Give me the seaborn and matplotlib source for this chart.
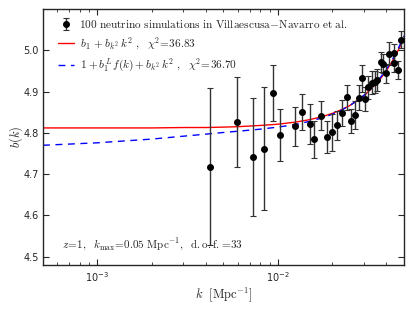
import numpy as np
import pandas as pd
import matplotlib
matplotlib.use("Agg")
import matplotlib.pyplot as plt
import seaborn as sns

# ---- data ----
k_data = [0.00421, 0.00596, 0.00725, 0.00840, 0.00938, 0.01026, 0.0124, 0.0136,
          0.0150, 0.0158, 0.0174, 0.0188, 0.0200, 0.0214, 0.0228, 0.0242, 0.0253,
          0.0269, 0.0281, 0.0294, 0.0306, 0.0316, 0.0331, 0.0344, 0.0354, 0.0374,
          0.0385, 0.0398, 0.0416, 0.0440, 0.0443, 0.0464, 0.0479]
b_data = [4.718, 4.826, 4.742, 4.762, 4.896, 4.796, 4.816, 4.850,
          4.822, 4.784, 4.842, 4.790, 4.801, 4.818, 4.848, 4.886, 4.829,
          4.843, 4.885, 4.932, 4.882, 4.910, 4.921, 4.924, 4.928, 4.972,
          4.968, 4.944, 4.992, 4.970, 4.994, 4.952, 5.026]
b_err = [0.190, 0.109, 0.143, 0.148, 0.068, 0.063, 0.047, 0.044,
         0.048, 0.045, 0.035, 0.038, 0.044, 0.035, 0.031, 0.031, 0.030,
         0.034, 0.030, 0.032, 0.030, 0.028, 0.028, 0.027, 0.027, 0.024,
         0.024, 0.024, 0.028, 0.022, 0.022, 0.021, 0.021]

k_curve = [5e-4, 1e-3, 2e-3, 3e-3, 4e-3, 5e-3, 6e-3, 8e-3, 0.010, 0.0125, 0.015,
           0.0175, 0.020, 0.0225, 0.025, 0.0275, 0.030, 0.0325, 0.035, 0.0375,
           0.040, 0.0425, 0.045, 0.0475, 0.050]
b_red = [4.812, 4.812, 4.812, 4.813, 4.813, 4.814, 4.815, 4.818, 4.821, 4.826, 4.832,
         4.839, 4.847, 4.856, 4.866, 4.878, 4.890, 4.904, 4.919, 4.934,
         4.951, 4.969, 4.988, 5.008, 5.030]
b_blue = [4.770, 4.776, 4.785, 4.792, 4.797, 4.801, 4.804, 4.809, 4.814, 4.820, 4.828,
          4.836, 4.845, 4.855, 4.866, 4.878, 4.891, 4.905, 4.921, 4.937,
          4.954, 4.972, 4.992, 5.013, 5.035]

label_data = r"$\mathrm{100\ neutrino\ simulations\ in\ Villaescusa\!-\!Navarro\ et\ al.}$"
label_red = r"$\,b_1\,+b_{k^2}\,k^2\ ,\ \ \chi^2\!=\!36.83$"
label_blue = r"$\,1+b_1^L\,f(k)+b_{k^2}\,k^2\ ,\ \ \chi^2\!=\!36.70$"
annot = r"$z\!=\!1,\ \ k_{\rm max}\!=\!0.05\ {\rm Mpc}^{-1},\ \ {\rm d.o.f.}\!=\!33$"
xlabel = r"$k\ \ [{\rm Mpc}^{-1}]$"
ylabel = r"$b(k)$"

# ---- style ----
sns.set_style("ticks")
plt.rcParams.update({
    "font.family": ["DejaVu Sans"],
    "mathtext.fontset": "cm",
    "xtick.direction": "in", "ytick.direction": "in",
    "xtick.top": True, "ytick.right": True,
    "xtick.major.size": 4, "ytick.major.size": 4,
    "xtick.minor.size": 2, "ytick.minor.size": 2,
    "xtick.labelsize": 7, "ytick.labelsize": 7,
    "xtick.major.pad": 4, "ytick.major.pad": 3,
    "axes.linewidth": 1.0,
})

fig = plt.figure(figsize=(4.13, 3.10), dpi=100)
ax = fig.add_axes([0.104, 0.145, 0.874, 0.826])

curves = pd.DataFrame({"k": k_curve + k_curve,
                       "b": b_red + b_blue,
                       "model": ["red"] * len(k_curve) + ["blue"] * len(k_curve)})

ax.errorbar(k_data, b_data, yerr=b_err, fmt="o", color="black", ms=4,
            ecolor="#333333", elinewidth=1.0, capsize=2, capthick=0.8,
            label=label_data, zorder=3)
sns.lineplot(data=curves[curves.model == "red"], x="k", y="b", ax=ax,
             color="red", lw=1.0, label=label_red, estimator=None, sort=True)
sns.lineplot(data=curves[curves.model == "blue"], x="k", y="b", ax=ax,
             color="blue", lw=1.0, linestyle=(0, (5, 4)), label=label_blue,
             estimator=None, sort=True)

ax.set_xscale("log")
ax.set_xlim(5e-4, 0.05)
ax.set_ylim(4.48, 5.10)
ax.set_yticks([4.5, 4.6, 4.7, 4.8, 4.9, 5.0])
ax.set_xlabel(xlabel, fontsize=9, labelpad=1)
ax.set_ylabel(ylabel, fontsize=9, labelpad=-1)
ax.tick_params(which="both", top=True, right=True, direction="in")

ax.text(0.052, 0.066, annot, transform=ax.transAxes, fontsize=8)

handles, labels = ax.get_legend_handles_labels()
order = [labels.index(label_data), labels.index(label_red), labels.index(label_blue)]
leg = ax.legend([handles[i] for i in order], [labels[i] for i in order],
                loc="upper left", frameon=False, fontsize=8.1,
                bbox_to_anchor=(0.014, 1.005), handlelength=1.4, handletextpad=0.45,
                labelspacing=0.5, borderaxespad=0.5)

fig.savefig("out.png", dpi=100, facecolor="white")
